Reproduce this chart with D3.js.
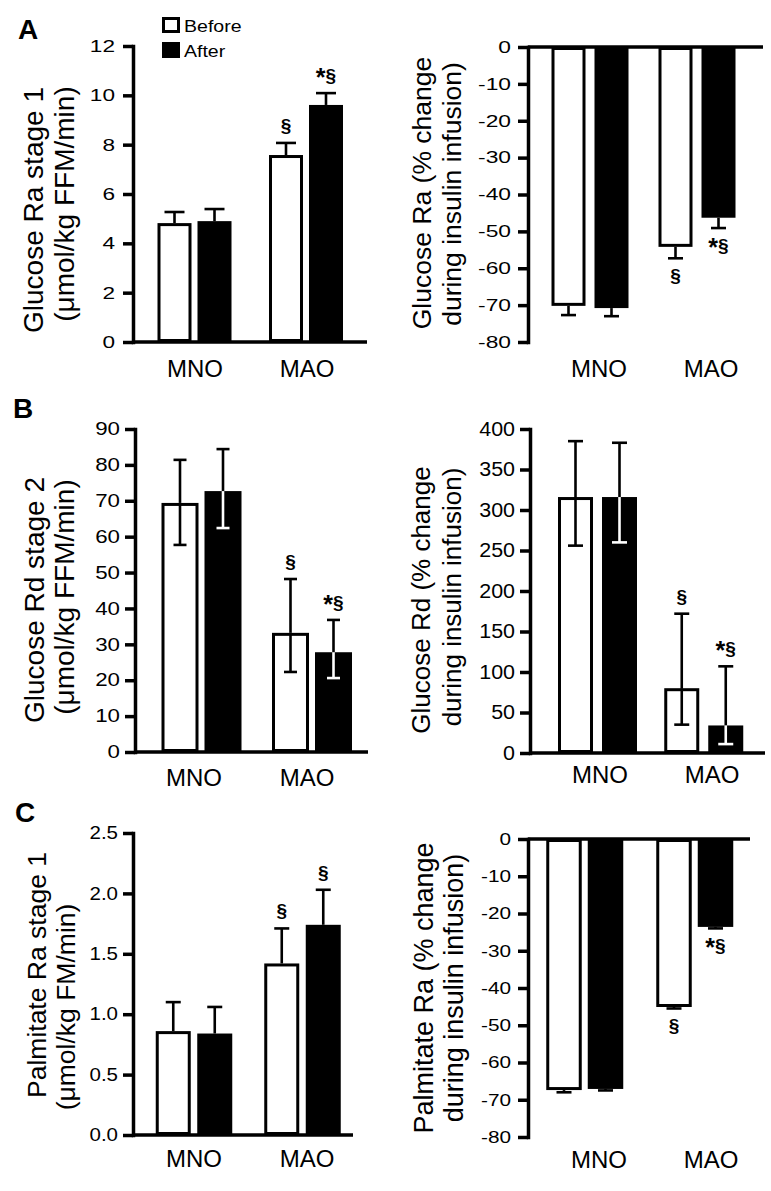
<!DOCTYPE html>
<html><head><meta charset="utf-8">
<script src="https://cdn.jsdelivr.net/npm/d3@7"></script>
<style>body{margin:0;background:#fff} svg{display:block}</style>
</head><body><svg id="c" width="771" height="1191"></svg>
<script>
// ---------- DATA ----------
const categories = ["MNO", "MAO"];
const series = ["Before", "After"];

// A left: Glucose Ra stage 1 (µmol/kg FFM/min)
const aLeftTicks = [0, 2, 4, 6, 8, 10, 12];
const aLeftBefore = [4.82, 7.58];
const aLeftAfter = [4.90, 9.61];
const aLeftBeforeHi = [5.27, 8.07];
const aLeftAfterHi = [5.39, 10.09];
const aLeftMarks = [["MAO", "Before", "§"], ["MAO", "After", "*§"]];

// A right: Glucose Ra (% change during insulin infusion)
const aRightTicks = [0, -10, -20, -30, -40, -50, -60, -70, -80];
const aRightBefore = [-70.2, -54.2];
const aRightAfter = [-70.8, -46.3];
const aRightBeforeLo = [-72.7, -57.3];
const aRightAfterLo = [-73.0, -49.1];
const aRightMarks = [["MAO", "Before", "§"], ["MAO", "After", "*§"]];

// B left: Glucose Rd stage 2 (µmol/kg FFM/min)
const bLeftTicks = [0, 10, 20, 30, 40, 50, 60, 70, 80, 90];
const bLeftBefore = [69.4, 33.2];
const bLeftAfter = [72.7, 27.8];
const bLeftBeforeHi = [81.4, 48.2];
const bLeftAfterHi = [84.4, 36.8];
const bLeftBeforeLo = [57.7, 22.3];
const bLeftAfterLo = [62.4, 20.6];
const bLeftMarks = [["MAO", "Before", "§"], ["MAO", "After", "*§"]];

// B right: Glucose Rd (% change during insulin infusion)
const bRightTicks = [0, 50, 100, 150, 200, 250, 300, 350, 400];
const bRightBefore = [316, 80];
const bRightAfter = [316, 34];
const bRightBeforeHi = [385, 172];
const bRightAfterHi = [383, 107];
const bRightBeforeLo = [256, 35];
const bRightAfterLo = [260, 11];
const bRightMarks = [["MAO", "Before", "§"], ["MAO", "After", "*§"]];

// C left: Palmitate Ra stage 1 (µmol/kg FM/min)
const cLeftTicks = [0, 0.5, 1.0, 1.5, 2.0, 2.5];
const cLeftBefore = [0.86, 1.42];
const cLeftAfter = [0.84, 1.74];
const cLeftBeforeHi = [1.10, 1.71];
const cLeftAfterHi = [1.06, 2.03];
const cLeftMarks = [["MAO", "Before", "§"], ["MAO", "After", "§"]];

// C right: Palmitate Ra (% change during insulin infusion)
const cRightTicks = [0, -10, -20, -30, -40, -50, -60, -70, -80];
const cRightBefore = [-67.4, -45.1];
const cRightAfter = [-67.1, -23.6];
const cRightBeforeLo = [-68.0, -45.5];
const cRightAfterLo = [-67.5, -24.0];
const cRightMarks = [["MAO", "Before", "§"], ["MAO", "After", "*§"]];

// ---------- DRAWING ----------
const FONT = '"Liberation Sans", Arial, Helvetica, sans-serif';
const svg = d3.select("#c");
const fmtInt = d => String(d);
const fmt1 = d => d.toFixed(1);

const panels = [
  { domain: [0, 12], yRange: [342, 46], ticks: aLeftTicks, fmt: fmtInt,
    values: { Before: aLeftBefore, After: aLeftAfter },
    hi: { Before: aLeftBeforeHi, After: aLeftAfterHi },
    lo: { Before: aLeftBefore, After: aLeftAfter },
    marks: aLeftMarks,
    axisX: 133, xEnd: 367, groupRange: [194.5, 306], labelRange: [195, 307], labelY: 377,
    barW: 34, step: 40, cap: 20, tickFont: 17, tickScale: 1.33, tickPad: 8,
    yFont: 28, yLabel: [["Glucose Ra stage 1", 43, 210], ["(\u03bcmol/kg FFM/min)", 74, 204]] },
  { domain: [-80, 0], yRange: [342, 47], ticks: aRightTicks, fmt: fmtInt,
    values: { Before: aRightBefore, After: aRightAfter },
    hi: { Before: aRightBefore, After: aRightAfter },
    lo: { Before: aRightBeforeLo, After: aRightAfterLo },
    marks: aRightMarks,
    axisX: 528, xEnd: 763, groupRange: [590, 697], labelRange: [599, 711], labelY: 377,
    barW: 34, step: 43, cap: 15, tickFont: 16.5, tickScale: 1.38, tickPad: 7,
    yFont: 26.5, yLabel: [["Glucose Ra (% change", 431, 193], ["during insulin infusion)", 461, 194]] },
  { domain: [0, 90], yRange: [752, 429], ticks: bLeftTicks, fmt: fmtInt,
    values: { Before: bLeftBefore, After: bLeftAfter },
    hi: { Before: bLeftBeforeHi, After: bLeftAfterHi },
    lo: { Before: bLeftBeforeLo, After: bLeftAfterLo },
    marks: bLeftMarks,
    axisX: 135, xEnd: 368, groupRange: [201.5, 312], labelRange: [194, 307], labelY: 786,
    barW: 37, step: 43, cap: 13, tickFont: 18, tickScale: 1.24, tickPad: 5,
    yFont: 28, yLabel: [["Glucose Rd stage 2", 44, 600], ["(\u03bcmol/kg FFM/min)", 74, 597]] },
  { domain: [0, 400], yRange: [753, 429], ticks: bRightTicks, fmt: fmtInt,
    values: { Before: bRightBefore, After: bRightAfter },
    hi: { Before: bRightBeforeHi, After: bRightAfterHi },
    lo: { Before: bRightBeforeLo, After: bRightAfterLo },
    marks: bRightMarks,
    axisX: 530, xEnd: 765, groupRange: [597.5, 703.75], labelRange: [600, 712], labelY: 783,
    barW: 35, step: 44, cap: 15, tickFont: 19.5, tickScale: 1.1, tickPad: 5,
    yFont: 26, yLabel: [["Glucose Rd (% change", 430, 600], ["during insulin infusion)", 461, 597]] },
  { domain: [0, 2.5], yRange: [1135, 833], ticks: cLeftTicks, fmt: fmt1,
    values: { Before: cLeftBefore, After: cLeftAfter },
    hi: { Before: cLeftBeforeHi, After: cLeftAfterHi },
    lo: { Before: cLeftBefore, After: cLeftAfter },
    marks: cLeftMarks,
    axisX: 133, xEnd: 353, groupRange: [194, 302.5], labelRange: [194, 307], labelY: 1167,
    barW: 35, step: 41.5, cap: 15, tickFont: 18, tickScale: 1.14, tickPad: 5,
    yFont: 26.5, yLabel: [["Palmitate Ra stage 1", 46, 975], ["(\u03bcmol/kg FM/min)", 75, 1007]] },
  { domain: [-80, 0], yRange: [1137, 839], ticks: cRightTicks, fmt: fmtInt,
    values: { Before: cRightBefore, After: cRightAfter },
    hi: { Before: cRightBefore, After: cRightAfter },
    lo: { Before: cRightBeforeLo, After: cRightAfterLo },
    marks: cRightMarks,
    axisX: 528, xEnd: 750, groupRange: [584.75, 694.75], labelRange: [599, 711], labelY: 1168,
    barW: 35.5, step: 41.5, cap: 15, tickFont: 16.5, tickScale: 1.26, tickPad: 7,
    yFont: 27, yLabel: [["Palmitate Ra (% change", 433, 988], ["during insulin infusion)", 463, 988]] }
];

const SW = 3, AXW = 3.5, TICK = 10;

function drawPanel(p) {
  const g = svg.append("g");
  const y = d3.scaleLinear().domain(p.domain).range(p.yRange);
  const gx = d3.scalePoint().domain(categories).range(p.groupRange);
  const half = (p.step + p.barW) / 2;
  const sx = d3.scaleBand().domain(series).range([-half, half])
    .paddingInner((p.step - p.barW) / p.step).paddingOuter(0);
  const lx = d3.scalePoint().domain(categories).range(p.labelRange);

  const rows = [];
  categories.forEach((c, i) => series.forEach(s => rows.push({
    c, s, v: p.values[s][i], hi: p.hi[s][i], lo: p.lo[s][i]
  })));

  // bars
  g.selectAll("rect.bar").data(rows).join("rect")
    .attr("class", "bar")
    .attr("x", d => gx(d.c) + sx(d.s) + (d.s === "Before" ? SW / 2 : 0))
    .attr("width", d => sx.bandwidth() - (d.s === "Before" ? SW : 0))
    .attr("y", d => Math.min(y(0), y(d.v)) + (d.s === "Before" ? SW / 2 : 0))
    .attr("height", d => Math.abs(y(d.v) - y(0)) - (d.s === "Before" ? SW : 0))
    .attr("fill", d => d.s === "Before" ? "#fff" : "#000")
    .attr("stroke", "#000")
    .attr("stroke-width", d => d.s === "Before" ? SW : 0);

  // error bars
  const eg = g.append("g").attr("stroke-width", 2.6).attr("fill", "none");
  rows.forEach(d => {
    const cx = gx(d.c) + sx(d.s) + sx.bandwidth() / 2;
    const pos = d.v >= 0;
    const outV = pos ? d.hi : d.lo;
    const inV = pos ? d.lo : d.hi;
    const seg = (a, b, col) => {
      eg.append("line").attr("x1", cx).attr("x2", cx).attr("y1", y(a)).attr("y2", y(b)).attr("stroke", col);
      eg.append("line").attr("x1", cx - p.cap / 2).attr("x2", cx + p.cap / 2)
        .attr("y1", y(b)).attr("y2", y(b)).attr("stroke", col);
    };
    if (outV !== d.v) seg(d.v, outV, "#000");
    if (inV !== d.v) seg(d.v, inV, d.s === "After" ? "#fff" : "#000");
    d.outV = outV; d.cx = cx;
  });

  // significance marks
  p.marks.forEach(([c, s, t]) => {
    const d = rows.find(r => r.c === c && r.s === s);
    const above = d.v >= 0;
    const txt = g.append("text").attr("x", d.cx)
      .attr("y", above ? y(d.outV) - 11 : y(d.outV) + 24)
      .attr("text-anchor", "middle").attr("font-family", FONT)
      .attr("font-weight", "bold").attr("font-size", 19);
    if (t.startsWith("*")) {
      txt.append("tspan").attr("font-size", 25).attr("dy", 4).text("*");
      txt.append("tspan").attr("dy", -4).text(t.slice(1));
    } else {
      txt.text(t);
    }
  });

  // x axis line at zero
  g.append("line").attr("x1", p.axisX).attr("x2", p.xEnd)
    .attr("y1", y(0)).attr("y2", y(0)).attr("stroke", "#000").attr("stroke-width", AXW);

  // y axis
  const ax = d3.axisLeft(y).tickValues(p.ticks).tickSize(TICK).tickSizeOuter(0)
    .tickPadding(p.tickPad).tickFormat(p.fmt);
  const ag = g.append("g").attr("transform", `translate(${p.axisX},0)`).call(ax);
  ag.select(".domain").attr("stroke-width", AXW).attr("stroke-linecap", "square");
  ag.selectAll(".tick line").attr("stroke-width", AXW);
  ag.selectAll(".tick text")
    .attr("font-family", FONT).attr("font-size", p.tickFont).attr("fill", "#000")
    .attr("x", -(TICK + p.tickPad) / p.tickScale)
    .attr("transform", `scale(${p.tickScale},1)`);

  // category labels
  g.selectAll("text.cat").data(categories).join("text")
    .attr("class", "cat")
    .attr("x", c => lx(c)).attr("y", p.labelY)
    .attr("text-anchor", "middle").attr("font-family", FONT).attr("font-size", 24)
    .text(c => c);

  // y labels
  p.yLabel.forEach(([t, x, cy]) => {
    g.append("text").attr("transform", `translate(${x},${cy}) rotate(-90)`)
      .attr("text-anchor", "middle").attr("font-family", FONT).attr("font-size", p.yFont)
      .text(t);
  });
}

panels.forEach(drawPanel);

// panel letters
[["A", 18, 39], ["B", 13, 418], ["C", 15, 822]].forEach(([t, x, yy]) => {
  svg.append("text").attr("x", x).attr("y", yy).attr("font-family", FONT)
    .attr("font-weight", "bold").attr("font-size", 28).text(t);
});

// legend
const legendY = d3.scalePoint().domain(series).range([25, 50]);
const lg = svg.append("g");
series.forEach(s => {
  const cy = legendY(s);
  lg.append("rect")
    .attr("x", s === "Before" ? 163.5 : 162).attr("y", cy - (s === "Before" ? 6.5 : 8))
    .attr("width", s === "Before" ? 15 : 18).attr("height", s === "Before" ? 13 : 16)
    .attr("fill", s === "Before" ? "#fff" : "#000").attr("stroke", "#000")
    .attr("stroke-width", s === "Before" ? 3 : 0);
  lg.append("text").attr("transform", `translate(184,${cy + 7}) scale(1.15,1)`)
    .attr("font-family", FONT).attr("font-size", 17).text(s);
});
</script>
</body></html>
